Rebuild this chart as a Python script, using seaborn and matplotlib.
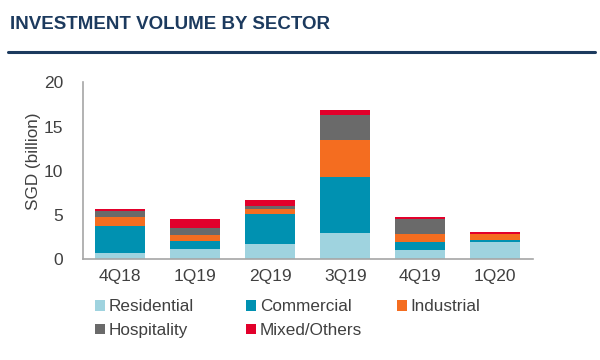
import numpy as np
import pandas as pd
import matplotlib
matplotlib.use('Agg')
import matplotlib.pyplot as plt
import seaborn as sns
from matplotlib.patches import Patch

# Data (SGD billion)
quarters = ["4Q18", "1Q19", "2Q19", "3Q19", "4Q19", "1Q20"]
residential = [0.75, 1.15, 1.75, 3.0, 1.0, 2.0]
commercial = [3.0, 0.9, 3.35, 6.35, 0.9, 0.2]
industrial = [1.05, 0.7, 0.6, 4.15, 0.9, 0.65]
hospitality = [0.7, 0.8, 0.35, 2.8, 1.7, 0.0]
mixed_others = [0.2, 1.0, 0.7, 0.55, 0.3, 0.2]

sectors = ["Residential", "Commercial", "Industrial", "Hospitality", "Mixed/Others"]
colors = ["#9fd3df", "#0091b1", "#f46d20", "#6a6a6a", "#e2002b"]

df = pd.DataFrame({
    "quarter": quarters,
    "Residential": residential,
    "Commercial": commercial,
    "Industrial": industrial,
    "Hospitality": hospitality,
    "Mixed/Others": mixed_others,
})

sns.set_theme(style="white")
plt.rcParams['font.family'] = ['Liberation Sans', 'DejaVu Sans']

fig = plt.figure(figsize=(6, 3.6), dpi=100)
ax = fig.add_axes([0.138, 0.28, 0.75, 0.491])

bottom = np.zeros(len(quarters))
for sector, color in zip(sectors, colors):
    sns.barplot(data=df, x="quarter", y=sector, color=color, bottom=bottom,
                width=0.667, ax=ax, saturation=1, linewidth=0)
    bottom = bottom + df[sector].values

txt = "#404040"
ax.set_xlim(-0.5, len(quarters) - 0.5)
ax.set_ylim(0, 20)
ax.set_yticks([0, 5, 10, 15, 20])
ax.set_xlabel("")
ax.set_ylabel("SGD (billion)", fontsize=12.3, color=txt)
ax.yaxis.set_label_coords(-0.094, 0.555)

spine_col = "#a6a6a6"
for s in ["top", "right"]:
    ax.spines[s].set_visible(False)
for s in ["left", "bottom"]:
    ax.spines[s].set_color(spine_col)
    ax.spines[s].set_linewidth(1.2)

ax.set_xticks(np.arange(-0.5, len(quarters)), minor=True)
ax.tick_params(axis="x", which="major", length=0, labelsize=12.5, labelcolor=txt, pad=7)
ax.tick_params(axis="x", which="minor", length=5, color=spine_col, width=1.2, direction="out")
ax.tick_params(axis="y", length=5, color=spine_col, width=1.2, labelsize=12.5,
               labelcolor=txt, direction="out", pad=9)
ax.grid(False)

# legend laid out as a fixed grid: 3 columns, row-major order
col_x = [0.158, 0.41, 0.662]
row_y = [0.148, 0.082]
for i, (s, c) in enumerate(zip(sectors, colors)):
    r, k = divmod(i, 3)
    fig.legend(handles=[Patch(facecolor=c, edgecolor="none", label=s)],
               loc="center left", bbox_to_anchor=(col_x[k], row_y[r]),
               frameon=False, fontsize=12.3, handlelength=0.6, handleheight=0.6,
               handletextpad=0.2, borderpad=0, borderaxespad=0, labelcolor=txt)

fig.text(0.017, 0.933, "INVESTMENT VOLUME BY SECTOR", fontsize=13.5, fontweight="bold",
         color="#1c3a5e", va="center", ha="left")
fig.add_artist(plt.Line2D([0.013, 0.992], [0.855, 0.855], color="#1c3a5e", linewidth=2.2))

fig.savefig("out.png", dpi=100)
